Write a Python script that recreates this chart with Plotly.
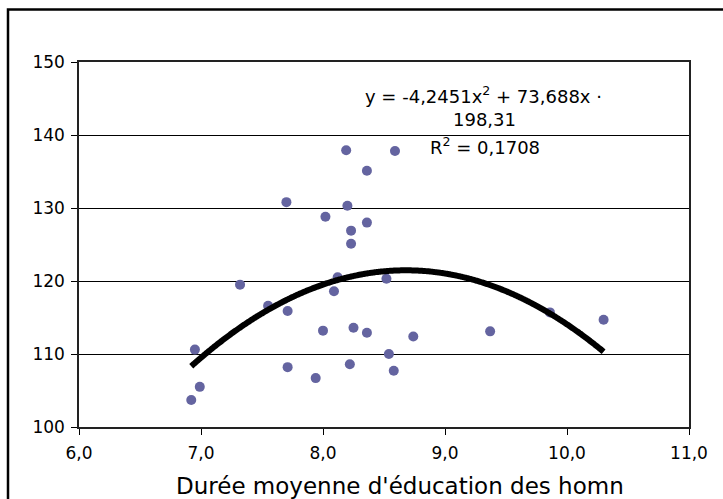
import numpy as np
import plotly.graph_objects as go

# Data
x_vals = [6.92, 6.95, 6.99, 7.32, 7.55, 7.70, 7.71, 7.71, 7.94, 8.00,
          8.02, 8.09, 8.12, 8.19, 8.20, 8.22, 8.23, 8.23, 8.25, 8.36,
          8.36, 8.36, 8.52, 8.54, 8.58, 8.59, 8.74, 9.37, 9.86, 10.30]
y_vals = [103.7, 110.6, 105.5, 119.5, 116.6, 130.8, 115.9, 108.2, 106.7, 113.2,
          128.8, 118.6, 120.5, 137.9, 130.3, 108.6, 126.9, 125.1, 113.6, 135.1,
          128.0, 112.9, 120.3, 110.0, 107.7, 137.8, 112.4, 113.1, 115.7, 114.7]

# Polynomial trend coefficients as printed on the chart
trend_coefs = [-4.2451, 73.688, -198.31]
eq_line1 = "y = -4,2451x<sup>2</sup> + 73,688x ·"
eq_line2 = "198,31"
eq_line3 = "R<sup>2</sup> = 0,1708"
x_title = "Durée moyenne d'éducation des homn"

y_ticks = [100, 110, 120, 130, 140, 150]
x_ticks = [6, 7, 8, 9, 10, 11]

W, H = 723, 499
L, R, T, B = 79, 34, 62, 72
PW, PH = W - L - R, H - T - B


def px(xp):
    return (xp - L) / PW


def py(yp):
    return (H - B - yp) / PH


tx = np.linspace(min(x_vals), max(x_vals), 300)
ty = np.polyval(trend_coefs, tx)

fig = go.Figure()
fig.add_trace(go.Scatter(x=x_vals, y=y_vals, mode="markers",
                         marker=dict(color="#6464a0", size=10),
                         showlegend=False))
fig.add_trace(go.Scatter(x=tx, y=ty, mode="lines",
                         line=dict(color="black", width=6, shape="spline"),
                         showlegend=False))

font_family = "DejaVu Sans, Verdana, sans-serif"

fig.update_layout(
    width=W, height=H,
    margin=dict(l=L, r=R, t=T, b=B),
    paper_bgcolor="white", plot_bgcolor="white",
    separators=", ",
    font=dict(family=font_family, color="black", size=17),
    xaxis=dict(range=[6, 11], tickvals=x_ticks, tickformat=".1f",
               showgrid=False, zeroline=False,
               showline=True, linecolor="#222222", linewidth=1.5, mirror=True,
               ticks="outside", ticklen=6, tickcolor="black",
               ticklabelstandoff=4,
               tickfont=dict(size=17)),
    yaxis=dict(range=[100, 150], tickvals=y_ticks,
               showgrid=True, gridcolor="black", gridwidth=1,
               zeroline=False,
               showline=True, linecolor="#222222", linewidth=1.5, mirror=True,
               ticks="outside", ticklen=6, tickcolor="black",
               ticklabelstandoff=3,
               tickfont=dict(size=17)),
)

# Outer chart frame
fig.add_shape(type="rect", xref="paper", yref="paper",
              x0=px(8), x1=px(740), y0=py(520), y1=py(9.5),
              line=dict(color="black", width=2.5), layer="above")

annots = [
    dict(text=eq_line1, x=px(483), y=py(95)),
    dict(text=eq_line2, x=px(484), y=py(119)),
    dict(text=eq_line3, x=px(485), y=py(146)),
]
for a in annots:
    fig.add_annotation(text=a["text"], x=a["x"], y=a["y"], xref="paper", yref="paper",
                       xanchor="center", yanchor="middle", showarrow=False,
                       font=dict(size=18, family=font_family, color="black"))

fig.add_annotation(text=x_title, x=px(174), y=py(486), xref="paper", yref="paper",
                   xanchor="left", yanchor="middle", showarrow=False,
                   font=dict(size=23, family=font_family, color="black"))

fig.write_html("out.html")
